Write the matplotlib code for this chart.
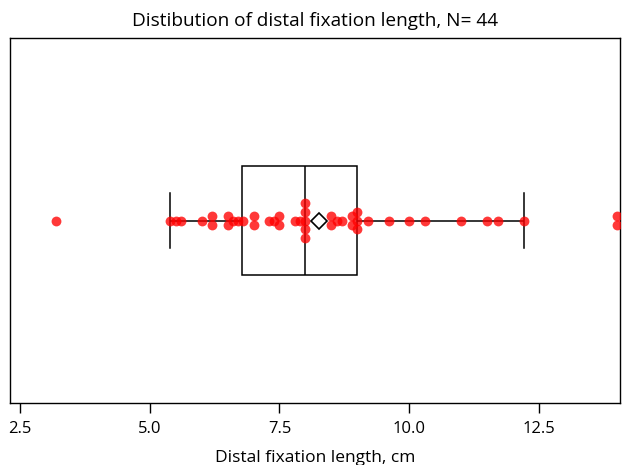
import matplotlib
matplotlib.use("Agg")
import matplotlib.pyplot as plt
import seaborn as sns
import numpy as np

# distal fixation lengths, cm
lengths = [3.2, 5.4, 5.5, 5.6, 6.0, 6.2, 6.2, 6.5, 6.5, 6.6, 6.7, 6.8,
           7.0, 7.0, 7.3, 7.4, 7.5, 7.5, 7.8, 7.9,
           8.0, 8.0, 8.0, 8.0, 8.0, 8.5, 8.5, 8.6, 8.7,
           8.9, 8.9, 9.0, 9.0, 9.0, 9.2, 9.6, 10.0, 10.3,
           11.0, 11.5, 11.7, 12.2, 14.0, 14.0]
xticks = [2.5, 5.0, 7.5, 10.0, 12.5]
title = "Distibution of distal fixation length, N= %d" % len(lengths)
xlabel = "Distal fixation length, cm"

plt.rcParams['font.family'] = ['Open Sans', 'DejaVu Sans']

fig = plt.figure(figsize=(6.22, 4.65), dpi=100)
ax = fig.add_axes([0.016, 0.133, 0.981, 0.785])

vals = np.array(lengths)
sns.boxplot(x=vals, ax=ax, width=0.3, color='white', linecolor='black',
            linewidth=1.1, showfliers=False, showmeans=True,
            meanprops=dict(marker='D', markerfacecolor='white',
                           markeredgecolor='black', markersize=8,
                           markeredgewidth=1.2, zorder=4))

# equal values are stacked around the centre line
step = 0.024
uniq, counts = np.unique(vals, return_counts=True)
px, py = [], []
for v, n in zip(uniq, counts):
    for i in range(n):
        px.append(v)
        py.append((i - (n - 1) / 2) * step)
ax.scatter(px, py, s=50, color='red', alpha=0.78, linewidths=0, zorder=3)

ax.set_xlim(2.31, 14.06)
ax.set_ylim(0.5, -0.5)
ax.set_xticks(xticks)
ax.set_xticklabels(["%.1f" % t for t in xticks], fontsize=12)
ax.set_yticks([])
ax.tick_params(axis='x', length=7, width=1, color='black', pad=6)
for s in ax.spines.values():
    s.set_visible(True)
    s.set_color('black')
    s.set_linewidth(1)
ax.set_xlabel(xlabel, fontsize=12.5, labelpad=9)
ax.set_title(title, fontsize=13.7, pad=9)

fig.savefig("out.png", dpi=100)
